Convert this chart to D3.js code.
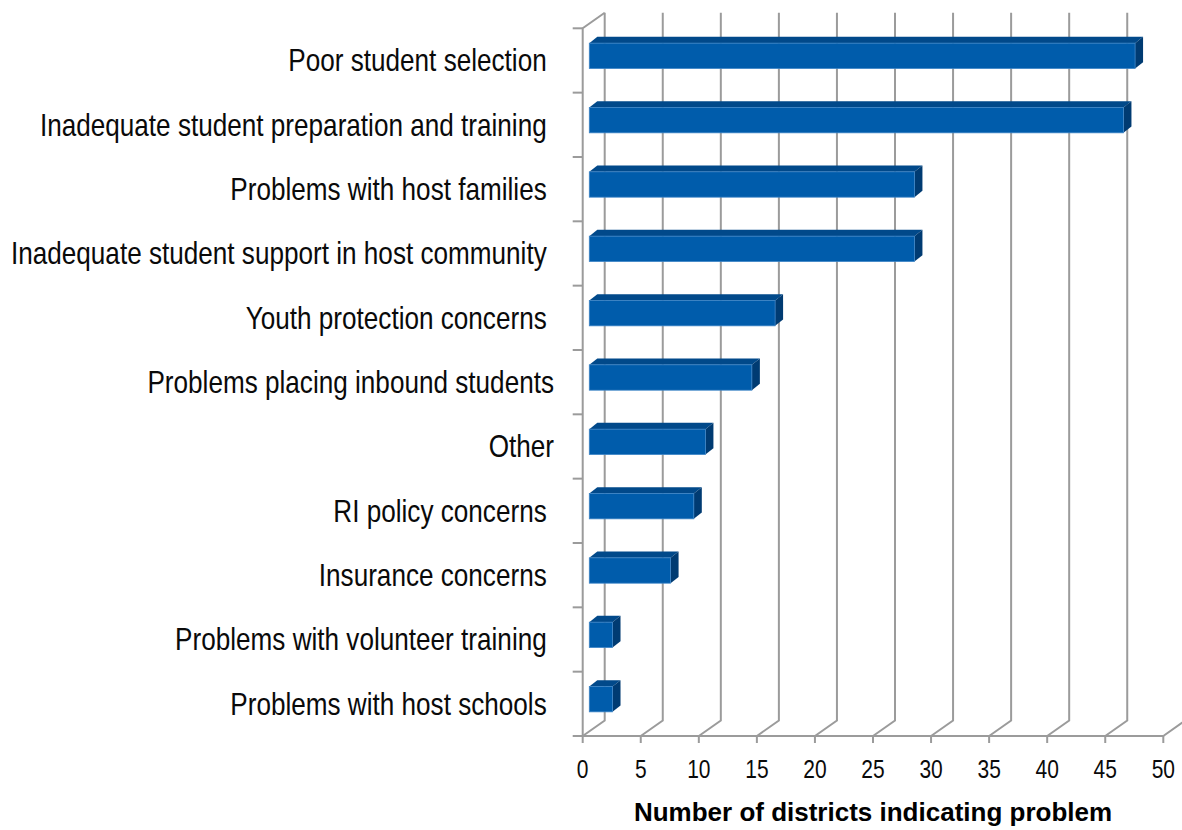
<!DOCTYPE html>
<html>
<head>
<meta charset="utf-8">
<script src="https://cdn.jsdelivr.net/npm/d3@7"></script>
<style>
  html, body { margin: 0; padding: 0; background: #ffffff; }
  svg { display: block; }
</style>
</head>
<body>
<svg id="chart" width="1182" height="830"></svg>
<script>
// Problems reported by districts, top to bottom
const categories = [
  "Poor student selection ",
  "Inadequate student preparation and training ",
  "Problems with host families ",
  "Inadequate student support in host community ",
  "Youth protection concerns ",
  "Problems placing inbound students",
  "Other",
  "RI policy concerns ",
  "Insurance concerns ",
  "Problems with volunteer training ",
  "Problems with host schools "
];
const counts = [47, 46, 28, 28, 16, 14, 10, 9, 7, 2, 2];
const tickValues = [0, 5, 10, 15, 20, 25, 30, 35, 40, 45, 50];
const axisTitle = "Number of districts indicating problem";

const svg = d3.select("#chart");

// plot frame (front floor edge and left wall)
const plotLeft = 582.7, plotRight = 1163.3, plotBottom = 736, plotTop = 28.3;
// depth offset of the back wall
const depthX = 22, depthY = -15.5;
// bars sit partway into the depth, with their own thickness
const barF = 0.3, barDX = 8, barDY = -6.3;

const x = d3.scaleLinear().domain([0, 50]).range([plotLeft, plotRight]);
const y = d3.scaleBand().domain(categories).range([plotTop, plotBottom]).padding(0);

const gridColor = "#9b9b9b";
const g = svg.append("g");

// back-wall gridlines with their floor diagonals
tickValues.forEach(t => {
  const x0 = x(t);
  g.append("path")
    .attr("d", `M${x0},${plotBottom} L${x0 + depthX},${plotBottom + depthY} L${x0 + depthX},${plotTop + depthY}`)
    .attr("fill", "none").attr("stroke", gridColor).attr("stroke-width", 2);
});

// left wall and floor front edge
g.append("path")
  .attr("d", `M${plotLeft + depthX},${plotTop + depthY} L${plotLeft},${plotTop} L${plotLeft},${plotBottom} L${plotRight},${plotBottom}`)
  .attr("fill", "none").attr("stroke", gridColor).attr("stroke-width", 2);

// category tick marks on the left wall
const catTicks = categories.map(c => y(c)).concat([plotBottom]);
g.selectAll("line.cat").data(catTicks).join("line")
  .attr("class", "cat")
  .attr("x1", plotLeft - 10).attr("x2", plotLeft)
  .attr("y1", d => d).attr("y2", d => d)
  .attr("stroke", gridColor).attr("stroke-width", 2);

// value tick marks below the floor
g.selectAll("line.val").data(tickValues).join("line")
  .attr("class", "val")
  .attr("x1", d => x(d)).attr("x2", d => x(d))
  .attr("y1", plotBottom).attr("y2", plotBottom + 7)
  .attr("stroke", gridColor).attr("stroke-width", 2);

// 3D bars
const frontColor = "#005CAB", topColor = "#01498A", sideColor = "#003B72", edgeColor = "#3C84C6";
const barH = y.bandwidth() * 0.394;
const offX = barF * depthX, offY = barF * depthY;

const bars = g.selectAll("g.bar").data(categories.map((c, i) => ({ c, v: counts[i] })))
  .join("g").attr("class", "bar");

bars.each(function(d) {
  const gb = d3.select(this);
  const x0 = x(0) + offX, x1 = x(d.v) + offX;
  const yc = y(d.c) + y.bandwidth() / 2 + offY;
  const y0 = yc - barH / 2, y1 = yc + barH / 2;
  // top face
  gb.append("path")
    .attr("d", `M${x0},${y0} L${x0 + barDX},${y0 + barDY} L${x1 + barDX},${y0 + barDY} L${x1},${y0} Z`)
    .attr("fill", topColor);
  // side face
  gb.append("path")
    .attr("d", `M${x1},${y0} L${x1 + barDX},${y0 + barDY} L${x1 + barDX},${y1 + barDY} L${x1},${y1} Z`)
    .attr("fill", sideColor);
  // front face
  gb.append("rect")
    .attr("x", x0).attr("y", y0)
    .attr("width", x1 - x0).attr("height", barH)
    .attr("fill", frontColor)
    .attr("stroke", edgeColor).attr("stroke-width", 0.8);
});

// category labels, set in a condensed face
svg.append("g").selectAll("text").data(categories).join("text")
  .attr("transform", d => `translate(554,${y(d) + y.bandwidth() / 2 + 11}) scale(0.843,1)`)
  .attr("text-anchor", "end")
  .style("white-space", "pre")
  .attr("font-family", "'Liberation Sans', Arial, sans-serif")
  .attr("font-size", 31)
  .attr("fill", "#0a0a0a")
  .text(d => d);

// value tick labels, condensed as well
svg.append("g").selectAll("text").data(tickValues).join("text")
  .attr("transform", d => `translate(${x(d)},778) scale(0.84,1)`)
  .attr("text-anchor", "middle")
  .attr("font-family", "'Liberation Sans', Arial, sans-serif")
  .attr("font-size", 25)
  .attr("fill", "#0a0a0a")
  .text(d => d);

// axis title
svg.append("text")
  .attr("x", 873)
  .attr("y", 821)
  .attr("text-anchor", "middle")
  .attr("font-family", "'Liberation Sans', Arial, sans-serif")
  .attr("font-weight", "bold")
  .attr("font-size", 26)
  .attr("fill", "#000")
  .text(axisTitle);
</script>
</body>
</html>
